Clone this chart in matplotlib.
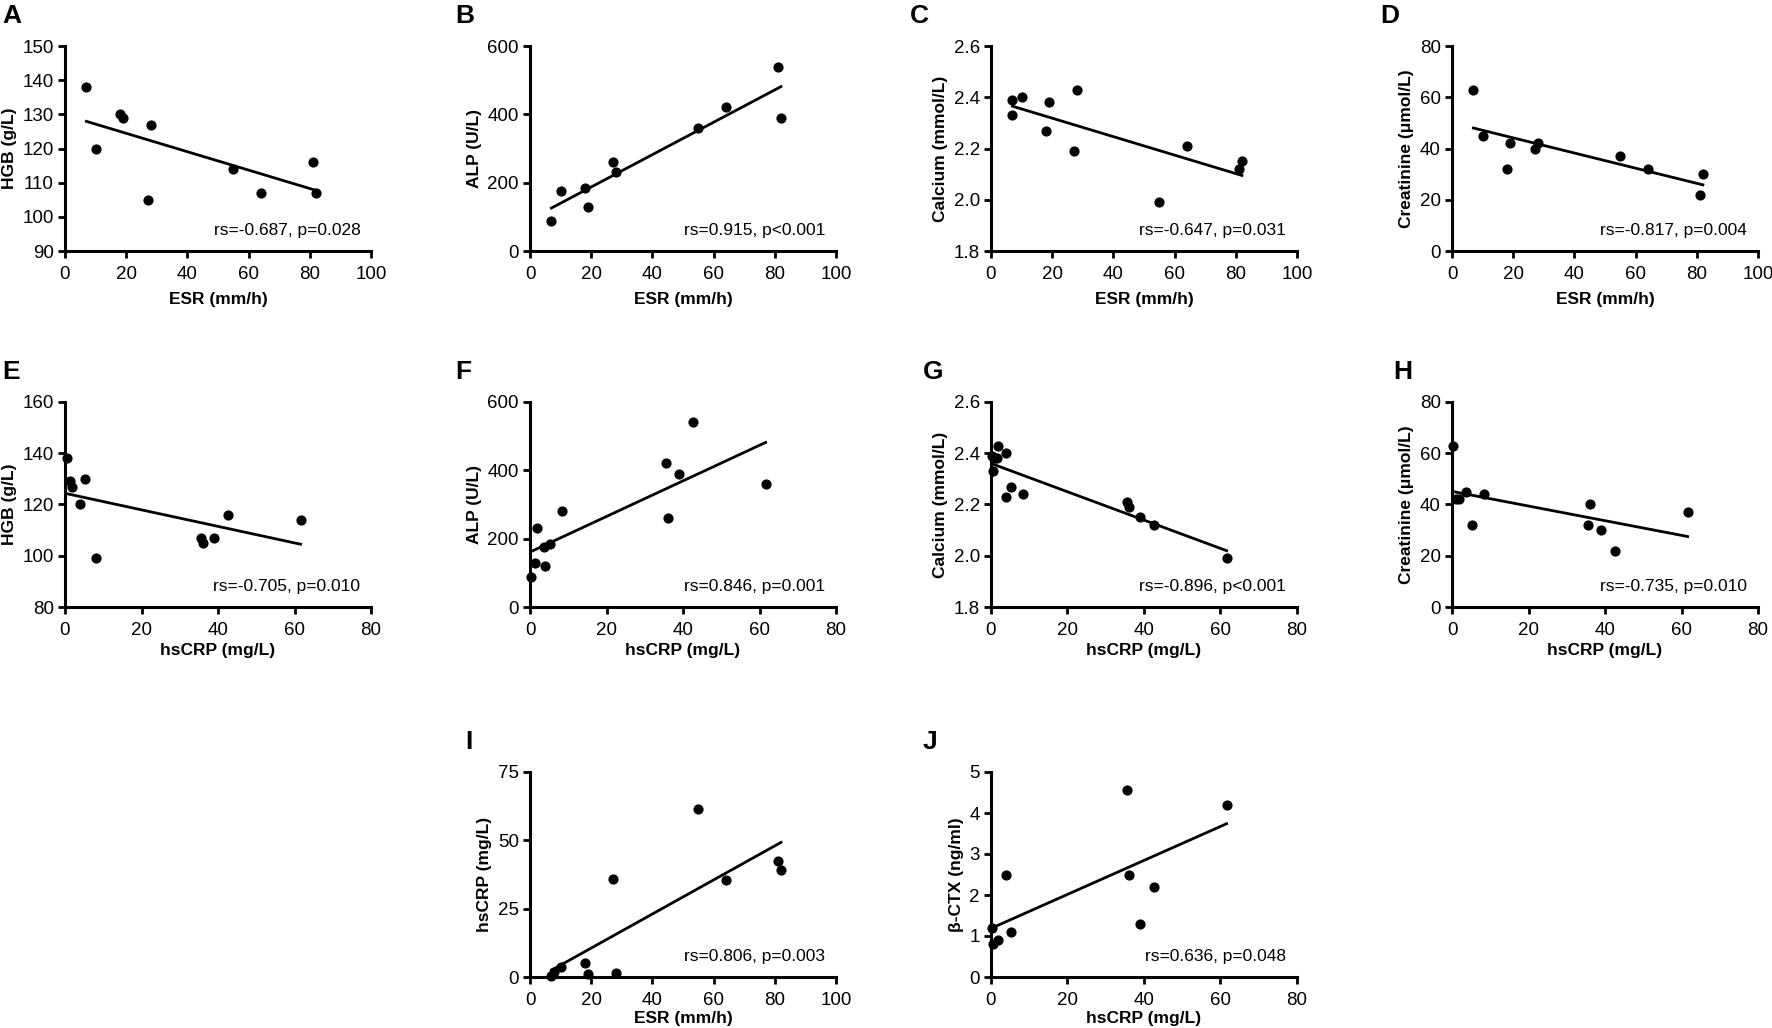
import numpy as np
import matplotlib
matplotlib.use('Agg')
import matplotlib.pyplot as plt

plt.rcParams['font.family'] = ['Liberation Sans', 'DejaVu Sans']

# ESR panels (A-D)
esr_a = [7, 10, 18, 19, 27, 28, 55, 64, 81, 82]
hgb_a = [138, 120, 130, 129, 105, 127, 114, 107, 116, 107]
esr_b = [7, 10, 18, 19, 27, 28, 55, 64, 81, 82]
alp_b = [88, 175, 185, 130, 260, 230, 360, 422, 540, 388]
esr_c = [7, 7, 10, 18, 19, 27, 28, 55, 64, 81, 82]
ca_c = [2.39, 2.33, 2.40, 2.27, 2.38, 2.19, 2.43, 1.99, 2.21, 2.12, 2.15]
esr_d = [7, 10, 18, 19, 27, 28, 55, 64, 81, 82]
cr_d = [63, 45, 32, 42, 40, 42, 37, 32, 22, 30]

# hsCRP panels (E-H)
crp_e = [0.5, 1.2, 1.8, 3.8, 5.2, 8.2, 35.5, 36.2, 39, 42.7, 61.6]
hgb_e = [138, 129, 127, 120, 130, 99, 107, 105, 107, 116, 114]
crp_f = [0.3, 1.2, 1.7, 3.7, 3.8, 5.2, 8.3, 35.5, 36.2, 39, 42.7, 61.6]
alp_f = [88, 130, 230, 175, 120, 183, 280, 422, 260, 388, 540, 360]
crp_g = [0.3, 0.5, 1.0, 1.5, 1.8, 3.8, 3.8, 5.2, 8.3, 35.5, 36.2, 39, 42.7, 61.6]
ca_g = [2.39, 2.33, 2.38, 2.38, 2.43, 2.40, 2.23, 2.27, 2.24, 2.21, 2.19, 2.15, 2.12, 1.99]
crp_h = [0.3, 1.0, 1.8, 3.7, 5.2, 8.3, 35.5, 36.2, 39, 42.7, 61.6]
cr_h = [63, 42, 42, 45, 32, 44, 32, 40, 30, 22, 37]

# I: hsCRP vs ESR, J: beta-CTX vs hsCRP
esr_i = [7, 8, 10, 18, 19, 27, 28, 55, 64, 81, 82]
crp_i = [0.5, 2, 3.5, 5, 1, 36, 1.5, 61.5, 35.5, 42.5, 39]
crp_j = [0.3, 0.5, 1.8, 3.8, 5.2, 35.5, 36.2, 39, 42.7, 61.6]
ctx_j = [1.2, 0.8, 0.9, 2.5, 1.1, 4.55, 2.5, 1.3, 2.2, 4.2]

stats = {
    'A': 'rs=-0.687, p=0.028', 'B': 'rs=0.915, p<0.001',
    'C': 'rs=-0.647, p=0.031', 'D': 'rs=-0.817, p=0.004',
    'E': 'rs=-0.705, p=0.010', 'F': 'rs=0.846, p=0.001',
    'G': 'rs=-0.896, p<0.001', 'H': 'rs=-0.735, p=0.010',
    'I': 'rs=0.806, p=0.003', 'J': 'rs=0.636, p=0.048',
}

W, H = 1772, 1028
fig = plt.figure(figsize=(W / 100, H / 100), dpi=100)

aw, ah = 306, 205
cols = [65, 530, 991, 1452]
rows = [46, 402, 772]


def panel(letter, left, top, x, y, xlab, ylab, xlim, xstep, ylim, ystep,
          fmt=None, lx=None, xpad=3):
    ax = fig.add_axes([left / W, 1 - (top + ah) / H, aw / W, ah / H])
    ax.scatter(x, y, s=40, color='black', zorder=3, clip_on=False)
    k, b = np.polyfit(x, y, 1)
    xs = np.array([min(x), max(x)])
    ax.plot(xs, k * xs + b, color='black', lw=2)
    ax.set_xlim(*xlim)
    ax.set_ylim(*ylim)
    ax.set_xticks(np.arange(xlim[0], xlim[1] + xstep / 2, xstep))
    yt = np.arange(ylim[0], ylim[1] + ystep / 2, ystep)
    ax.set_yticks(yt)
    if fmt:
        ax.set_yticklabels([fmt % v for v in yt])
    for s in ['top', 'right']:
        ax.spines[s].set_visible(False)
    for s in ['left', 'bottom']:
        ax.spines[s].set_linewidth(2.2)
    ax.tick_params(width=2, length=5, labelsize=13.5, pad=3)
    ax.tick_params(axis='x', pad=5.5)
    ax.set_xlabel(xlab, fontsize=12.5, fontweight='bold', labelpad=xpad)
    ax.set_ylabel(ylab, fontsize=12.5, fontweight='bold', labelpad=4)
    ax.text(0.965, 0.1, stats[letter], transform=ax.transAxes, ha='right',
            va='center', fontsize=12.5)
    if lx is None:
        lx = left - 65
    fig.text(lx / W, 1 - (top - 30) / H, letter, fontsize=19, fontweight='bold',
             va='center', ha='left')
    return ax


esr_lab = 'ESR (mm/h)'
crp_lab = 'hsCRP (mg/L)'

panel('A', cols[0], rows[0], esr_a, hgb_a, esr_lab, 'HGB (g/L)', (0, 100), 20, (90, 150), 10, lx=2, xpad=7)
panel('B', cols[1], rows[0], esr_b, alp_b, esr_lab, 'ALP (U/L)', (0, 100), 20, (0, 600), 200, lx=455, xpad=7)
panel('C', cols[2], rows[0], esr_c, ca_c, esr_lab, 'Calcium (mmol/L)', (0, 100), 20, (1.8, 2.6), 0.2, fmt='%.1f', lx=910, xpad=7)
panel('D', cols[3], rows[0], esr_d, cr_d, esr_lab, 'Creatinine (\u03bcmol/L)', (0, 100), 20, (0, 80), 20, lx=1380, xpad=7)

panel('E', cols[0], rows[1], crp_e, hgb_e, crp_lab, 'HGB (g/L)', (0, 80), 20, (80, 160), 20, lx=2)
panel('F', cols[1], rows[1], crp_f, alp_f, crp_lab, 'ALP (U/L)', (0, 80), 20, (0, 600), 200, lx=455)
panel('G', cols[2], rows[1], crp_g, ca_g, crp_lab, 'Calcium (mmol/L)', (0, 80), 20, (1.8, 2.6), 0.2, fmt='%.1f', lx=923)
panel('H', cols[3], rows[1], crp_h, cr_h, crp_lab, 'Creatinine (\u03bcmol/L)', (0, 80), 20, (0, 80), 20, lx=1393)

panel('I', cols[1], rows[2], esr_i, crp_i, esr_lab, 'hsCRP (mg/L)', (0, 100), 20, (0, 75), 25, lx=465, xpad=1.5)
panel('J', cols[2], rows[2], crp_j, ctx_j, crp_lab, '\u03b2-CTX (ng/ml)', (0, 80), 20, (0, 5), 1, lx=923, xpad=1.5)

fig.savefig('out.png', dpi=100)
